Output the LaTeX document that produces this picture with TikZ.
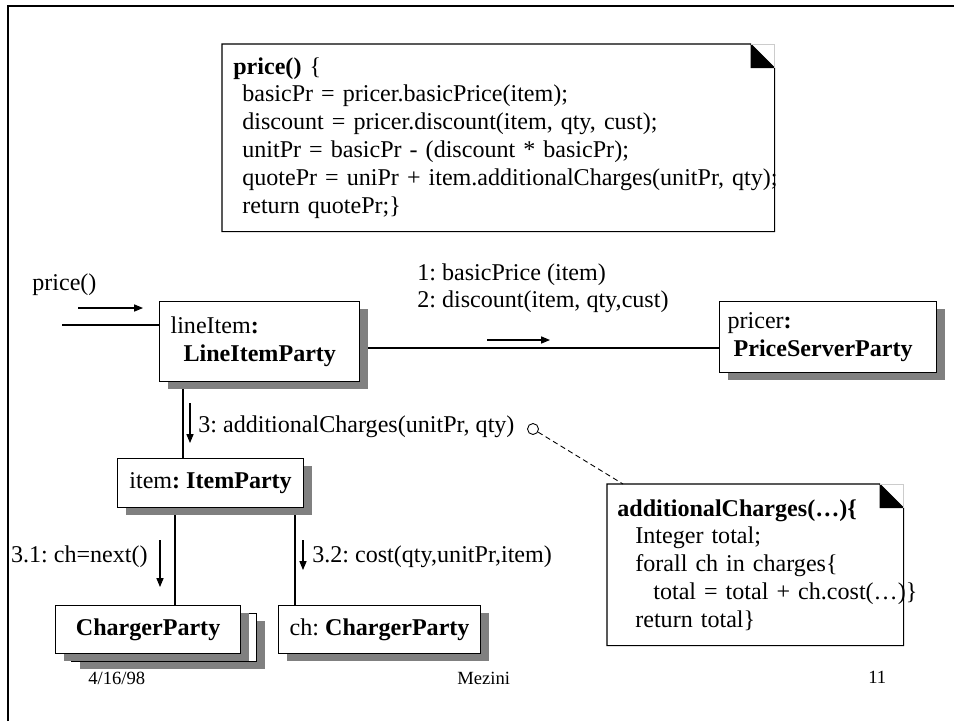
\documentclass[tikz,border=0pt]{standalone}
\usepackage{fontspec}
\setmainfont{Liberation Serif}
\frenchspacing
\usetikzlibrary{arrows.meta, shadows, backgrounds}
\definecolor{shadowgray}{gray}{0.5}
\tikzstyle{party} = [rectangle, anchor=north west, draw=black, fill=white, line width=0.7pt, inner sep=0pt, drop shadow={shadow xshift=0.16cm, shadow yshift=-0.14cm, fill=shadowgray, opacity=1}]
\tikzstyle{note} = [rectangle, anchor=north west, align=left, inner ysep=0pt]
\tikzstyle{lbl} = [inner sep=0pt]
\tikzstyle{foot} = [inner sep=0pt, anchor=west, font=\fontsize{10.6pt}{12pt}\selectfont]
\tikzstyle{msg} = [-{Triangle[length=5pt,width=4pt]}, line width=0.6pt]
\tikzstyle{link} = [line width=0.6pt]

\begin{document}
\begin{tikzpicture}[x=0.02cm, y=-0.02cm, font=\fontsize{13.7pt}{15.8pt}\selectfont]
\useasboundingbox (0,0) rectangle (954,721);
% Frame
\draw[line width=1.4pt] (8,721) -- (8,6) -- (954,6);

% Notes
\node (pr) [note, text width=10.6cm, inner xsep=0.22cm, minimum height=3.74cm] at (222,44) {\textbf{price()} \{\\
\hspace*{0.18cm}basicPr = pricer.basicPrice(item);\\
\hspace*{0.18cm}discount = pricer.discount(item, qty, cust);\\
\hspace*{0.18cm}unitPr = basicPr - (discount * basicPr);\\
\hspace*{0.18cm}\mbox{quotePr = uniPr + item.additionalCharges(unitPr, qty);}\\
\hspace*{0.18cm}return quotePr;\}};
\node (chg) [note, text width=5.52cm, inner xsep=0.2cm, minimum height=3.22cm] at (607,484) {\textbf{additionalCharges(…)\{}\\
\hspace*{0.36cm}Integer total;\\
\hspace*{0.36cm}forall ch in charges\{\\
\hspace*{0.72cm}\mbox{total = total + ch.cost(…)\}}\\
\hspace*{0.36cm}return total\}};
\foreach \n in {pr, chg} {
  \draw[line width=0.6pt] (\n.north west) -- ([xshift=-0.48cm]\n.north east) -- ([yshift=-0.48cm]\n.north east) -- (\n.south east) -- (\n.south west) -- cycle;
  \fill ([xshift=-0.48cm]\n.north east) -- ([xshift=-0.48cm,yshift=-0.48cm]\n.north east) -- ([yshift=-0.48cm]\n.north east) -- cycle;
  \draw[gray!40] ([xshift=-0.48cm]\n.north east) -- (\n.north east) -- ([yshift=-0.48cm]\n.north east);
}

% Objects
\node (li) [party, text width=3.56cm, inner xsep=0.22cm, minimum height=1.6cm, align=left] at (159,301) {lineItem\textbf{:}\\\hspace*{0.26cm}\textbf{LineItemParty}};
\node (ps) [party, text width=4.02cm, inner xsep=0.16cm, minimum height=1.42cm, align=left] at (719,301) {pricer\textbf{:}\\\hspace*{0.12cm}\textbf{PriceServerParty}};
\node (it) [party, minimum width=3.72cm, minimum height=0.98cm] at (117,458) {item\textbf{: ItemParty}};
\node (cb) [party, minimum width=3.7cm, minimum height=0.96cm] at (71,613) {};
\node (cf) [party, minimum width=3.7cm, minimum height=0.96cm] at (55,605) {\textbf{ChargerParty}};
\node (ch) [party, minimum width=4.04cm, minimum height=0.96cm] at (278,605) {ch: \textbf{ChargerParty}};
\node (lnk) [circle, draw, line width=0.5pt, minimum size=0.22cm, inner sep=0pt] at (533,429) {};

% Links
\begin{pgfonlayer}{background}
\coordinate (in) at (62,325);
\coordinate (lp) at (0,348);
\coordinate (a3) at ([xshift=0.48cm]li.south west);
\coordinate (a31) at ([xshift=1.16cm]it.south west);
\coordinate (a32) at ([xshift=0.34cm]ch.north west);
\draw[link] (in) -- (in -| li.west);
\draw[link] (li.east |- lp) -- (ps.west |- lp);
\draw[link] (a3) -- (a3 |- it.north);
\draw[link] (a31) -- (a31 |- cf.north);
\draw[link] (a32) -- (a32 |- it.south);
\end{pgfonlayer}
\draw[dashed, line width=0.5pt, dash pattern=on 3pt off 2pt] (lnk) -- ([xshift=0.32cm]chg.north west);

% Messages
\draw[msg] (78,308) -- (143,308);
\draw[msg] (487,340) -- (550,340);
\draw[msg] (190,403) -- (190,443);
\draw[msg] (160,540) -- (160,587);
\draw[msg] (303,540) -- (303,570);
\node (tprice) [lbl, anchor=west] at (32,285) {price()};
\node (t1) [lbl, anchor=west] at (417,275) {1: basicPrice (item)};
\node (t2) [lbl, anchor=west] at (417,302) {2: discount(item, qty,cust)};
\node (t3) [lbl, anchor=west] at (198,427) {3: additionalCharges(unitPr, qty)};
\node (t31) [lbl, anchor=east] at (148,557) {3.1: ch=next()};
\node (t32) [lbl, anchor=west] at (312,557) {3.2: cost(qty,unitPr,item)};

% Footer
\node (date) [foot] at (88,678) {4/16/98};
\node (auth) [foot] at (457,678) {Mezini};
\node (page) [foot] at (868,677) {11};
\end{tikzpicture}
\end{document}
